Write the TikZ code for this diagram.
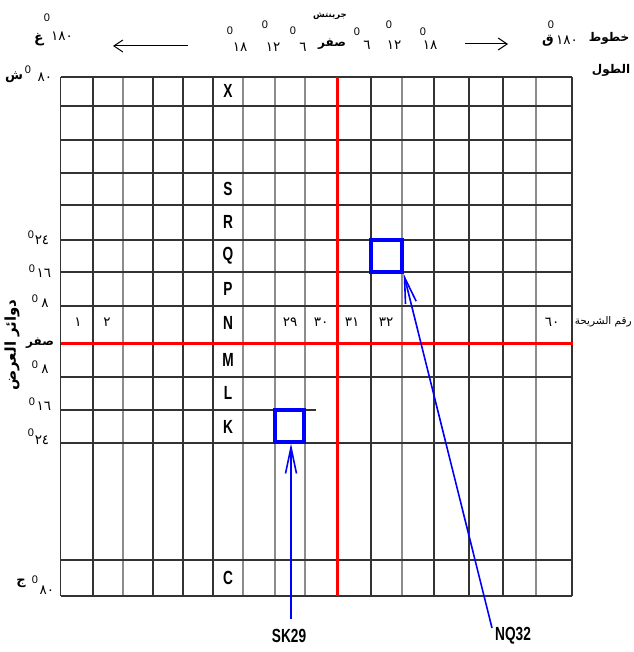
\documentclass[tikz,border=0pt]{standalone}
\usepackage{fontspec}
\setmainfont{Liberation Sans}
\newfontfamily\ar[Script=Arabic]{DejaVu Sans}
\usetikzlibrary{arrows.meta}
\TeXXeTstate=1
\definecolor{gridc}{HTML}{333333}
\definecolor{gridl}{HTML}{8C8C8C}
\definecolor{rd}{HTML}{FF0000}
\definecolor{bl}{HTML}{0000FF}
\begin{document}
\begin{tikzpicture}[x=1pt,y=-1pt,
  gl/.style={draw=gridc, line width=1.2pt},
  gll/.style={draw=gridl, line width=1.2pt},
  redl/.style={draw=rd, line width=3pt},
  letter/.style={font=\bfseries\fontsize{19}{19}\selectfont, xscale=0.72, inner sep=0},
  ardig/.style={font=\ar\fontsize{13.5}{13.5}\selectfont, inner sep=0},
  deg/.style={font=\fontsize{11}{11}\selectfont, inner sep=0},
  arw/.style={font=\ar\bfseries\fontsize{12}{12}\selectfont, inner sep=0},
  arr/.style={font=\ar\fontsize{10.5}{10.5}\selectfont, inner sep=0},
  bbox/.style={draw=bl, line width=3.2pt, minimum height=32pt, inner sep=0},
  barrow/.style={draw=bl, line width=1.6pt, -{Straight Barb[length=26pt,width=11pt]}},
  karrow/.style={draw=black, line width=1pt, -{Straight Barb[length=9pt,width=12pt]}}
]
\useasboundingbox (0,0) rectangle (633,652);
\fill[white] (0,0) rectangle (633,652);

% grid
\foreach \x in {60.5,93,153,183,213,371,434,469,503,572} \draw[gl] (\x,77) -- (\x,596);
\foreach \x in {123,243,275,305,402,536} \draw[gll] (\x,77) -- (\x,596);
\foreach \y in {77,106,140,173,205,240,272,306,377,443,560,596} \draw[gl] (60.5,\y) -- (572,\y);
\draw[gl] (60.5,410) -- (316,410);
\draw[redl] (337.5,77) -- (337.5,596);
\draw[redl] (60.5,343.5) -- (573,343.5);

% row letters
\node[letter] (lX) at (228,91) {X};
\node[letter] (lS) at (228,189) {S};
\node[letter] (lR) at (228,222) {R};
\node[letter] (lQ) at (228,256) {Q};
\node[letter] (lP) at (228,289) {P};
\node[letter] (lN) at (228,323) {N};
\node[letter] (lM) at (228,360) {M};
\node[letter] (lL) at (228,393) {L};
\node[letter] (lK) at (228,427) {K};
\node[letter] (lC) at (228,578) {C};

% sheet numbers
\node[ardig] (n1) at (78,322) {١};
\node[ardig] (n2) at (107,322) {٢};
\node[ardig] (n29) at (290,322) {٢٩};
\node[ardig] (n30) at (321,322) {٣٠};
\node[ardig] (n31) at (352,322) {٣١};
\node[ardig] (n32) at (386,322) {٣٢};
\node[ardig] (n60) at (552,322) {٦٠};
\node[arr, anchor=east] (sheet) at (632,322) {\beginR رقم الشريحة\endR};

% blue boxes and arrows
\node[bbox, minimum width=29pt] (bk) at (289.5,426) {};
\node[bbox, minimum width=31pt] (bq) at (386.5,256) {};
\node[letter] (sk) at (289,636) {SK29};
\node[letter] (nq) at (513,636) {NQ32};
\coordinate (skt) at (291,619);
\coordinate (nqt) at (492,628);
\draw[barrow] (skt) -- (skt |- bk.south);
\draw[barrow] (nqt) -- (bq.south east);

% top labels
\node[font=\ar\bfseries\fontsize{8.5}{8.5}\selectfont, inner sep=0] (gr) at (330,16) {\beginR جرينتش\endR};
\node[arw] (z0) at (332,44) {\beginR صفر\endR};
\node[ardig] (w18) at (240,47) {١٨};
\node[ardig] (w12) at (273,47) {١٢};
\node[ardig] (w6) at (303,47) {٦};
\node[ardig] (e6) at (367,45) {٦};
\node[ardig] (e12) at (394,45) {١٢};
\node[ardig] (e18) at (430,45) {١٨};
\node[deg] (dw18) at (230,31) {0};
\node[deg] (dw12) at (265,25) {0};
\node[deg] (dw6) at (293,31) {0};
\node[deg] (de6) at (357,32) {0};
\node[deg] (de12) at (389,25) {0};
\node[deg] (de18) at (423,32) {0};
\coordinate (la1) at (188,46);
\coordinate (la2) at (113,46);
\draw[karrow] (la1) -- (la2);
\coordinate (ra1) at (465,44);
\coordinate (ra2) at (508,44);
\draw[karrow] (ra1) -- (ra2);
\node[font=\ar\bfseries\fontsize{14}{14}\selectfont, inner sep=0] (gh) at (39,40) {\beginR غ\endR};
\node[deg] (dgh) at (47,18) {0};
\node[ardig] (w180) at (62,36) {١٨٠};
\node[font=\ar\bfseries\fontsize{13}{13}\selectfont, inner sep=0] (qa) at (548,41) {\beginR ق\endR};
\node[deg] (dqa) at (551,25) {0};
\node[ardig] (e180) at (567,40) {١٨٠};
\node[arw] (kh) at (609,38) {\beginR خطوط\endR};
\node[arw] (tw) at (611,70) {\beginR الطول\endR};

% left labels
\node[font=\ar\bfseries\fontsize{13}{13}\selectfont, inner sep=0] (sh) at (14,77) {\beginR ش\endR};
\node[deg] (dsh) at (28,70) {0};
\node[ardig] (s80) at (45,77) {٨٠};
\node[deg] (d24a) at (31,235) {0};
\node[ardig] (l24a) at (42,240) {٢٤};
\node[deg] (d16a) at (32,269) {0};
\node[ardig] (l16a) at (44,273) {١٦};
\node[deg] (d8a) at (35,299) {0};
\node[ardig] (l8a) at (45,303) {٨};
\node[arw] (lz) at (40,343) {\beginR صفر\endR};
\node[deg] (d8b) at (35,365) {0};
\node[ardig] (l8b) at (45,369) {٨};
\node[deg] (d16b) at (32,402) {0};
\node[ardig] (l16b) at (44,406) {١٦};
\node[deg] (d24b) at (31,433) {0};
\node[ardig] (l24b) at (42,440) {٢٤};
\node[font=\ar\bfseries\fontsize{13}{13}\selectfont, inner sep=0] (ja) at (21,583) {\beginR ج\endR};
\node[deg] (dja) at (35,580) {0};
\node[ardig] (n80) at (47,590) {٨٠};
\node[font=\ar\bfseries\fontsize{15}{15}\selectfont, inner sep=0, rotate=90] (lat) at (12,345) {\beginR دوائر العرض\endR};
\end{tikzpicture}
\end{document}
